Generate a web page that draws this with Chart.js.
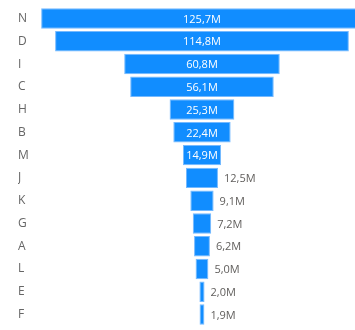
<!DOCTYPE html>
<html>
<head>
<meta charset="utf-8">
<title>Funnel</title>
<script src="https://cdn.jsdelivr.net/npm/chart.js@4/dist/chart.umd.min.js"></script>
<style>
  html, body { margin: 0; padding: 0; background: #fff; overflow: hidden; }
  #wrap { position: relative; width: 355px; height: 333px; }
</style>
</head>
<body>
<div id="wrap"><canvas id="funnelChart"></canvas></div>
<script>
const categories = ['N', 'D', 'I', 'C', 'H', 'B', 'M', 'J', 'K', 'G', 'A', 'L', 'E', 'F'];
const values = [125.7, 114.8, 60.8, 56.1, 25.3, 22.4, 14.9, 12.5, 9.1, 7.2, 6.2, 5.0, 2.0, 1.9];

const FONT = '"Open Sans", "DejaVu Sans", sans-serif';

function fmt(v) {
  return v.toFixed(1).replace('.', ',') + 'M';
}

// value labels: white inside the bar when they fit, grey to the right otherwise
const funnelLabels = {
  id: 'funnelLabels',
  afterDatasetsDraw(chart) {
    const ctx = chart.ctx;
    const meta = chart.getDatasetMeta(0);
    ctx.save();
    ctx.font = '11px ' + FONT;
    ctx.textBaseline = 'middle';
    meta.data.forEach((bar, i) => {
      const text = fmt(values[i]);
      const left = Math.min(bar.x, bar.base);
      const right = Math.max(bar.x, bar.base);
      const w = ctx.measureText(text).width;
      if (w + 4 <= right - left) {
        ctx.fillStyle = '#ffffff';
        ctx.textAlign = 'center';
        ctx.fillText(text, (left + right) / 2, bar.y + 1);
      } else {
        ctx.fillStyle = '#605e5c';
        ctx.textAlign = 'left';
        ctx.fillText(text, right + 6, bar.y + 1);
      }
    });
    ctx.restore();
  }
};

const ctx = document.getElementById('funnelChart').getContext('2d');
new Chart(ctx, {
  type: 'bar',
  data: {
    labels: categories,
    datasets: [{
      data: values.map(v => [-v / 2, v / 2]),
      backgroundColor: '#118dff',
      borderColor: '#74b9ff',
      borderWidth: 1,
      borderSkipped: false,
      barPercentage: 0.9,
      categoryPercentage: 1
    }]
  },
  options: {
    indexAxis: 'y',
    responsive: true,
    maintainAspectRatio: false,
    animation: false,
    layout: { padding: { top: 5, left: 18, right: 0, bottom: 0 } },
    scales: {
      x: {
        display: false,
        min: -63.3,
        max: 59.8
      },
      y: {
        grid: { display: false, drawTicks: false },
        border: { display: false },
        afterFit: scale => { scale.width = 22; },
        ticks: {
          crossAlign: 'far',
          color: '#666666',
          padding: 0,
          font: { family: FONT, size: 12 }
        }
      }
    },
    plugins: {
      legend: { display: false },
      tooltip: { enabled: false }
    }
  },
  plugins: [funnelLabels]
});
</script>
</body>
</html>
